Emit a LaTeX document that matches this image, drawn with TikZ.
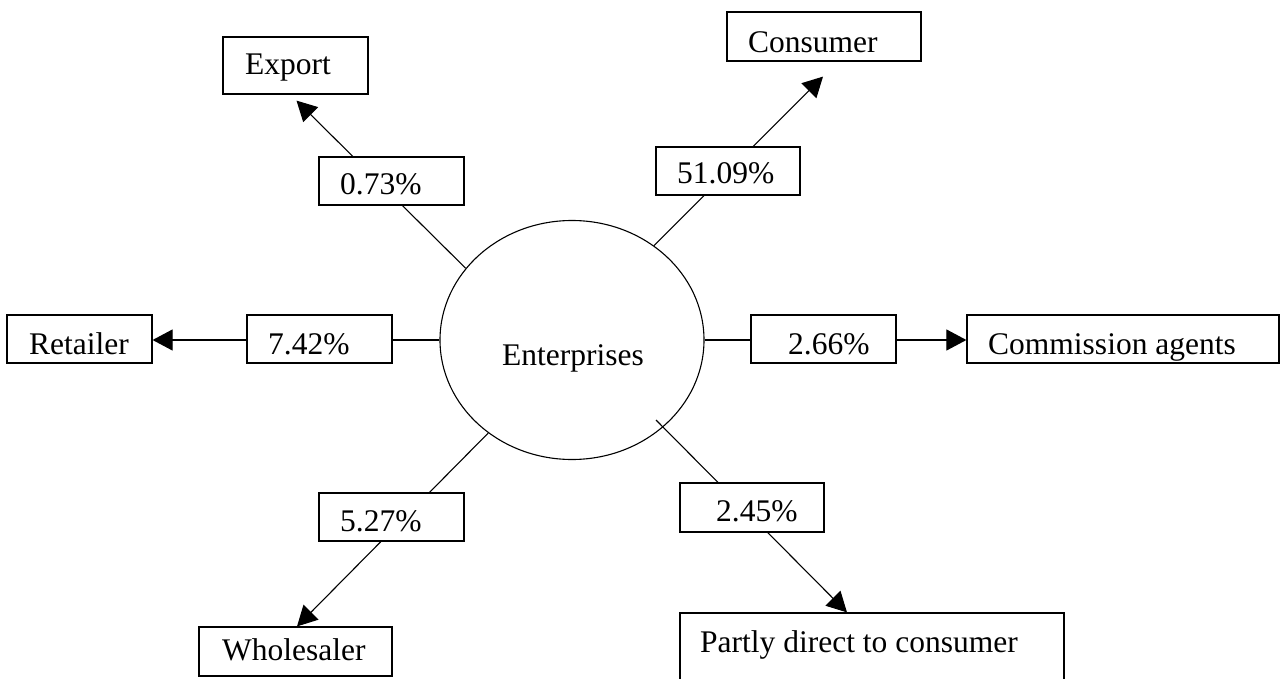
\documentclass[tikz,border=0pt]{standalone}
\usepackage{fontspec}
\setmainfont{Liberation Serif}
\usetikzlibrary{arrows.meta,calc,shapes.geometric}
\pgfdeclarelayer{background}
\pgfsetlayers{background,main}
\begin{document}
\begin{tikzpicture}[x=1pt,y=-1pt,
  box/.style={draw, line width=1.2pt, fill=white, inner sep=0pt},
  lbl/.style={anchor=base west, inner sep=0pt, font=\fontsize{31.5}{38}\selectfont},
  conn/.style={line width=1.1pt},
  arr/.style={conn, -{Triangle[length=20pt,width=21pt]}}]
\useasboundingbox (0,0) rectangle (1282,679);
% centre
\node[draw, ellipse, line width=1.1pt, minimum width=264pt, minimum height=239pt, inner sep=0pt] (ent) at (572,340) {};
\node[lbl] (tent) at (502,365) {Enterprises};
% destination boxes
\node[box, minimum width=145pt, minimum height=57pt] (exp) at (295.5,65.5) {};
\node[box, minimum width=194pt, minimum height=49pt] (con) at (824,36.5) {};
\node[box, minimum width=145pt, minimum height=48pt] (ret) at (79.5,339) {};
\node[box, minimum width=312pt, minimum height=48pt] (com) at (1123,339) {};
\node[box, minimum width=193pt, minimum height=49pt] (who) at (295.5,651.5) {};
\node[box, minimum width=384pt, minimum height=100pt] (par) at (872,663) {};
% percentage boxes
\node[box, minimum width=145pt, minimum height=48pt] (p073) at (391.5,181) {};
\node[box, minimum width=144pt, minimum height=48pt] (p5109) at (728,171) {};
\node[box, minimum width=145pt, minimum height=48pt] (p742) at (319.5,339) {};
\node[box, minimum width=145pt, minimum height=48pt] (p266) at (823.5,339) {};
\node[box, minimum width=145pt, minimum height=48pt] (p527) at (391.5,517) {};
\node[box, minimum width=144pt, minimum height=49pt] (p245) at (752,507.5) {};
% texts
\node[lbl] (texp) at (245,75) {Export};
\node[lbl] (tcon) at (748,53) {Consumer};
\node[lbl] (tret) at (29,354) {Retailer};
\node[lbl] (tcom) at (988,354) {Commission agents};
\node[lbl] (twho) at (222,660) {Wholesaler};
\node[lbl] (tpar) at (700,652) {Partly direct to consumer};
\node[lbl] (t073) at (340,195) {0.73\%};
\node[lbl] (t5109) at (677,184) {51.09\%};
\node[lbl] (t742) at (268,354) {7.42\%};
\node[lbl] (t266) at (788,354) {2.66\%};
\node[lbl] (t527) at (340,531) {5.27\%};
\node[lbl] (t245) at (716,521) {2.45\%};
% connectors
\begin{pgfonlayer}{background}
\fill[white] (0,0) rectangle (1282,679);
\draw[arr] (ent.146) -- ($(exp.south)+(1,6)$);
\draw[arr] (ent.49.4) -- ($(con.south)+(-1,15)$);
\draw[arr] (ent.west) -- (ent.west -| ret.east);
\draw[arr] (ent.east) -- (ent.east -| com.west);
\draw[arr] (ent.228.5) -- ($(who.north)+(1.5,0)$);
\draw[arr] ($(ent.center)+(84,80)$) -- ($(par.north)+(-25,0)$);
\end{pgfonlayer}
\end{tikzpicture}
\end{document}
